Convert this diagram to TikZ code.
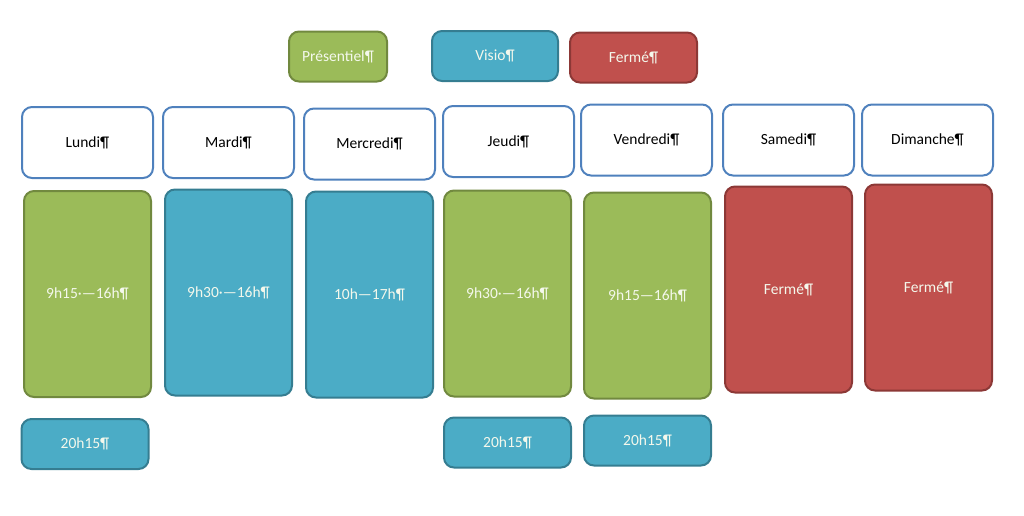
\documentclass[tikz,border=0pt]{standalone}
\usepackage{fontspec}
\setmainfont{Carlito}
\usepackage{xcolor}
\usepackage{tikz}
\usetikzlibrary{positioning}
\definecolor{vert}{HTML}{9BBB59}
\definecolor{vertbord}{HTML}{71893F}
\definecolor{bleu}{HTML}{4BACC6}
\definecolor{bleubord}{HTML}{357D91}
\definecolor{rouge}{HTML}{C0504D}
\definecolor{rougebord}{HTML}{8C3836}
\definecolor{jourbord}{HTML}{4F81BD}
\definecolor{texteclair}{HTML}{F4F8EC}
\tikzstyle{case}=[rectangle,rounded corners=10pt,line width=2pt,inner sep=0pt,font=\fontsize{15.5}{18}\selectfont]
\tikzstyle{presentiel}=[case,fill=vert,draw=vertbord,text=texteclair]
\tikzstyle{visio}=[case,fill=bleu,draw=bleubord,text=texteclair]
\tikzstyle{ferme}=[case,fill=rouge,draw=rougebord,text=texteclair]
\tikzstyle{jour}=[case,fill=white,draw=jourbord,text=black]
\tikzset{legende/.style={minimum height=50pt}}

\begin{document}
\begin{tikzpicture}[x=1pt,y=-1pt]

  \useasboundingbox (0,0) rectangle (1024,515);

  % legende
  \node[presentiel,legende,minimum width=98pt] (legPres) at (338,56.5) {Présentiel¶};
  \node[visio,legende,minimum width=126pt] (legVisio) at (495,56) {Visio¶};
  \node[ferme,legende,minimum width=127pt] (legFerme) at (633.5,57.5) {Fermé¶};

  % jours
  \foreach \x/\y/\name/\label in {87.5/142.5/lundi/Lundi, 228.5/142.5/mardi/Mardi, 369.5/144/mercredi/Mercredi,
      508.5/141.5/jeudi/Jeudi, 646.5/140/vendredi/Vendredi, 788.5/140/samedi/Samedi, 927.5/140/dimanche/Dimanche}
          \node[jour,minimum width=131pt,minimum height=71pt] (\name) at (\x,\y) {\label¶};

  % horaires
  \foreach \x/\y/\name/\style/\label in {87.5/294/hLundi/presentiel/9h15·—16h, 228.5/292.5/hMardi/visio/9h30·—16h,
      369.5/294.5/hMercredi/visio/10h—17h, 507.5/293.5/hJeudi/presentiel/9h30·—16h,
      647.5/295.5/hVendredi/presentiel/9h15—16h, 788.5/289.5/hSamedi/ferme/Fermé, 928.5/287.5/hDimanche/ferme/Fermé}
          \node[\style,minimum width=127pt,minimum height=206pt] (\name) at (\x,\y) {\label¶};

  % soirees
  \foreach \x/\y/\name in {85/444/sLundi, 507.5/442.5/sJeudi, 647.5/440.5/sVendredi}
          \node[visio,minimum width=127pt,minimum height=50pt] (\name) at (\x,\y) {20h15¶};

\end{tikzpicture}
\end{document}
